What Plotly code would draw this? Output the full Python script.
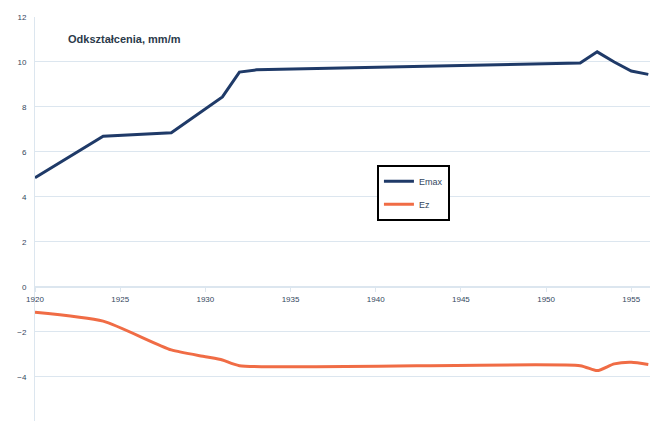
import plotly.graph_objects as go

# Data
years_emax = [1920, 1924, 1928, 1931, 1932, 1933, 1952, 1953, 1954, 1955, 1956]
emax = [4.85, 6.7, 6.85, 8.45, 9.55, 9.65, 9.95, 10.45, 10.0, 9.6, 9.45]

years_ez = [1920, 1924, 1928, 1930, 1931, 1932, 1952, 1953, 1954, 1955, 1956]
ez = [-1.12, -1.52, -2.8, -3.1, -3.25, -3.5, -3.5, -3.72, -3.42, -3.35, -3.45]

x_ticks = [1920, 1925, 1930, 1935, 1940, 1945, 1950, 1955]
y_ticks = [-6, -4, -2, 0, 2, 4, 6, 8, 10, 12]

title_text = "Odkształcenia, mm/m"
names = ["Emax", "Ez"]

blue = "#1f3a68"
orange = "#f06c45"
grid = "#dce6ef"
tickcol = "#34475e"

y_min, y_max = -5.96, 12.0

fig = go.Figure()
fig.add_trace(go.Scatter(x=years_emax, y=emax, mode="lines", name=names[0],
                         line=dict(color=blue, width=3), legendgroup="a"))
fig.add_trace(go.Scatter(x=years_ez, y=ez, mode="lines", name=names[1],
                         line=dict(color=orange, width=3, shape="spline", smoothing=0.6),
                         legendgroup="b"))

fig.update_layout(
    width=657, height=421,
    margin=dict(l=35, r=7, t=17, b=0),
    paper_bgcolor="white", plot_bgcolor="white",
    font=dict(family="Liberation Sans, Arial, sans-serif", size=8, color=tickcol),
    showlegend=True,
    legend=dict(x=0.556, y=0.634, xanchor="left", yanchor="top",
                bordercolor="black", borderwidth=2, bgcolor="white",
                font=dict(size=9, color=tickcol), itemwidth=30,
                tracegroupgap=4),
    xaxis=dict(range=[1920, 1956.1], tickvals=x_ticks, showgrid=False,
               anchor="free", position=(0 - y_min) / (y_max - y_min),
               showline=True, linecolor=grid, linewidth=1,
               ticks="outside", ticklen=4, tickcolor=grid,
               tickfont=dict(size=8, color=tickcol), zeroline=False),
    yaxis=dict(range=[y_min, y_max], tickvals=y_ticks, showgrid=True,
               gridcolor=grid, gridwidth=1, zeroline=True, zerolinecolor=grid,
               zerolinewidth=1, showline=True, linecolor=grid,
               ticklabelstandoff=6, tickfont=dict(size=8, color=tickcol)),
    annotations=[dict(text="<b>" + title_text + "</b>", xref="paper", yref="paper",
                      x=(66 - 35) / 615, y=1 - (39 - 17) / 404,
                      xanchor="left", yanchor="middle", showarrow=False,
                      font=dict(size=11, color="#2b3a4a"))],
)

fig.write_html("out.html")
